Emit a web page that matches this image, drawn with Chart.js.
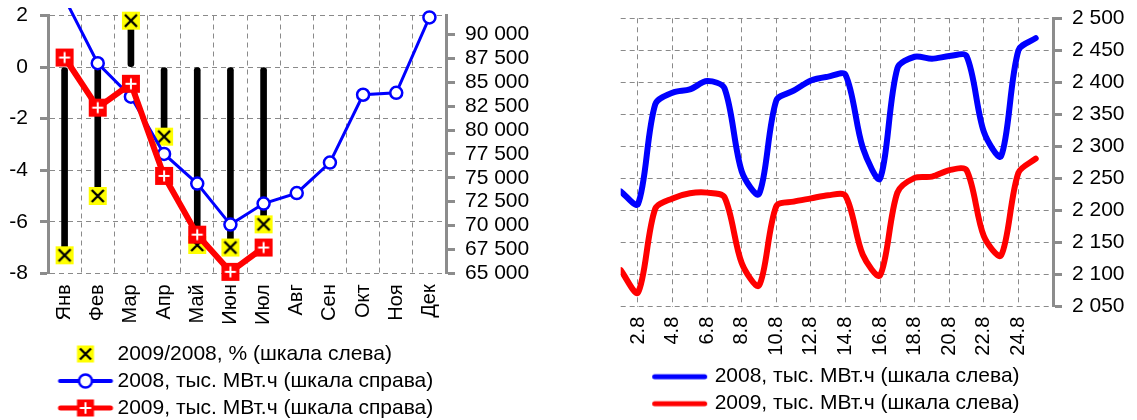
<!DOCTYPE html>
<html><head><meta charset="utf-8">
<script src="https://cdn.jsdelivr.net/npm/chart.js@4.4.0/dist/chart.umd.min.js"></script>
<style>
html,body{margin:0;padding:0;background:#fff;overflow:hidden;}
#wrap{position:relative;width:1137px;height:420px;}
#c1box{position:absolute;left:0;top:0;width:565px;height:420px;}
#c2box{position:absolute;left:565px;top:0;width:572px;height:420px;}
</style></head><body>
<div id="wrap"><div id="c1box"><canvas id="c1"></canvas></div><div id="c2box"><canvas id="c2"></canvas></div></div>
<script>
// ---- data: left chart (monthly) ----
const months = ['Янв','Фев','Мар','Апр','Май','Июн','Июл','Авг','Сен','Окт','Ноя','Дек'];
const ratioPct = [-7.3, -5.0, 1.8, -2.7, -6.9, -7.0, -6.1];
const monthly2008 = [93800, 87000, 83500, 77500, 74400, 70100, 72300, 73400, 76600, 83700, 83900, 91800];
const monthly2009 = [87600, 82350, 84850, 75200, 69050, 65150, 67700];
const pctTicks = [-8, -6, -4, -2, 0, 2];
const monthlyTicks = [65000, 67500, 70000, 72500, 75000, 77500, 80000, 82500, 85000, 87500, 90000];
const leftLegendTexts = ['2009/2008, % (шкала слева)', '2008, тыс. МВт.ч (шкала справа)', '2009, тыс. МВт.ч (шкала справа)'];

// ---- data: right chart (daily, August) ----
const days = [1,2,3,4,5,6,7,8,9,10,11,12,13,14,15,16,17,18,19,20,21,22,23,24,25];
const daily2008 = [2230, 2210, 2366, 2384, 2389, 2402, 2391, 2261, 2226, 2372, 2387, 2403, 2409, 2412, 2298, 2250, 2422, 2440, 2437, 2441, 2441, 2323, 2285, 2450, 2469];
const daily2009 = [2107, 2072, 2203, 2219, 2227, 2228, 2221, 2118, 2083, 2207, 2214, 2219, 2224, 2223, 2131, 2099, 2228, 2251, 2253, 2263, 2263, 2160, 2130, 2259, 2281];
const dayTicks = [2,4,6,8,10,12,14,16,18,20,22,24];
const dailyTicks = [2050,2100,2150,2200,2250,2300,2350,2400,2450,2500];
const rightLegendTexts = ['2008, тыс. МВт.ч (шкала слева)', '2009, тыс. МВт.ч (шкала слева)'];

const FONT = "'Liberation Sans', Arial, sans-serif";
const GRID = '#8a8a8a';
const AXIS = '#8c8c8c';
const DASH = [5, 4];
Chart.defaults.font.family = FONT;
Chart.defaults.font.size = 21;
Chart.defaults.color = '#000';

const fmt = v => String(v).replace(/\B(?=(\d{3})+(?!\d))/g, ' ');
const fixSize = (w, h) => s => {
  if (w !== null) s.width = w;
  if (h !== null) s.height = h;
  s.paddingTop = 0; s.paddingBottom = 0; s.paddingLeft = 0; s.paddingRight = 0;
};

function mk(w, h) { const c = document.createElement('canvas'); c.width = w; c.height = h; return c; }
function yellowX(ctx, cx, cy, s) {
  ctx.fillStyle = '#FFFF00'; ctx.fillRect(cx - s/2, cy - s/2, s, s);
  ctx.strokeStyle = '#000'; ctx.lineWidth = 2.4; const a = s/2 - 3;
  ctx.beginPath(); ctx.moveTo(cx-a, cy-a); ctx.lineTo(cx+a, cy+a); ctx.moveTo(cx+a, cy-a); ctx.lineTo(cx-a, cy+a); ctx.stroke();
}
function redPlus(ctx, cx, cy, s) {
  ctx.fillStyle = '#FF0000'; ctx.fillRect(cx - s/2, cy - s/2, s, s);
  ctx.strokeStyle = '#fff'; ctx.lineWidth = 2; const a = s/2 - 3.5;
  ctx.beginPath(); ctx.moveTo(cx-a, cy); ctx.lineTo(cx+a, cy); ctx.moveTo(cx, cy-a); ctx.lineTo(cx, cy+a); ctx.stroke();
}
function blueCircle(ctx, cx, cy, r) {
  ctx.fillStyle = '#fff'; ctx.strokeStyle = '#0000FF'; ctx.lineWidth = 2.5;
  ctx.beginPath(); ctx.arc(cx, cy, r, 0, Math.PI*2); ctx.fill(); ctx.stroke();
}
function hline(ctx, x0, x1, y, color, w) {
  ctx.strokeStyle = color; ctx.lineWidth = w; ctx.lineCap = 'round';
  ctx.beginPath(); ctx.moveTo(x0 + w/2, y); ctx.lineTo(x1 - w/2, y); ctx.stroke();
}
const ptYellow = mk(20, 20); yellowX(ptYellow.getContext('2d'), 10, 10, 18);
const ptRed = mk(20, 20); redPlus(ptRed.getContext('2d'), 10, 10, 18);

const IW = 70, IH = 22;
const lgYellow = mk(IW, IH); yellowX(lgYellow.getContext('2d'), 40, 11, 17);
const lgBlue = mk(IW, IH); { const c = lgBlue.getContext('2d'); hline(c, 12.5, 67.5, 11, '#0000FF', 4); blueCircle(c, 40, 11, 6.5); }
const lgRed = mk(IW, IH); { const c = lgRed.getContext('2d'); hline(c, 12.5, 67.5, 11, '#FF0000', 5); redPlus(c, 40, 11, 17); }
const lgBlueLine = mk(IW, IH); hline(lgBlueLine.getContext('2d'), 8, 63, 11, '#0000FF', 5);
const lgRedLine = mk(IW, IH); hline(lgRedLine.getContext('2d'), 8, 63, 11, '#FF0000', 5);

function legendItems(texts, icons) {
  return texts.map((t, i) => ({ text: t, pointStyle: icons[i], fillStyle: 'rgba(0,0,0,0)', strokeStyle: 'rgba(0,0,0,0)', lineWidth: 0, hidden: false, datasetIndex: i, fontColor: '#000' }));
}
const clipOpt = { left: 20, right: 20, top: 7.5, bottom: 20 };

new Chart(document.getElementById('c1'), {
  type: 'bar',
  data: {
    labels: months,
    datasets: [
      { type: 'line', label: leftLegendTexts[0], data: ratioPct, yAxisID: 'y', showLine: false,
        pointStyle: ptYellow, pointRadius: 9, order: 2, clip: clipOpt },
      { type: 'line', label: leftLegendTexts[1], data: monthly2008, yAxisID: 'y1',
        borderColor: '#0000FF', borderWidth: 3, tension: 0, pointStyle: 'circle', pointRadius: 6,
        pointBackgroundColor: '#fff', pointBorderColor: '#0000FF', pointBorderWidth: 2.5, order: 1, clip: clipOpt },
      { type: 'line', label: leftLegendTexts[2], data: monthly2009, yAxisID: 'y1',
        borderColor: '#FF0000', borderWidth: 6, borderJoinStyle: 'round', tension: 0, pointStyle: ptRed, pointRadius: 9, order: 0, clip: clipOpt },
      { type: 'bar', label: 'bars', data: ratioPct.map(v => [0, v]), yAxisID: 'y', backgroundColor: '#000',
        barThickness: 6, borderRadius: 3, borderSkipped: false, order: 3, clip: clipOpt }
    ]
  },
  options: {
    responsive: true, maintainAspectRatio: false, animation: false, devicePixelRatio: 1,
    layout: { padding: { left: 0, right: 0, top: 15.5, bottom: -8.5 } },
    plugins: {
      tooltip: { enabled: false },
      legend: { position: 'bottom', align: 'start', fullSize: false,
        labels: { usePointStyle: true, pointStyleWidth: 53, padding: 6, font: { size: 21 }, color: '#000',
          generateLabels: () => legendItems(leftLegendTexts, [lgYellow, lgBlue, lgRed]) } }
    },
    scales: {
      x: { type: 'category', offset: true,
        grid: { offset: true, color: GRID, lineWidth: 1, drawTicks: false },
        border: { display: false, dash: DASH },
        ticks: { minRotation: 90, maxRotation: 90, autoSkip: false, padding: 11, font: { size: 20 } },
        afterFit: fixSize(null, 64.2) },
      y: { position: 'left', min: -8, max: 2,
        afterBuildTicks: s => { s.ticks = pctTicks.map(v => ({ value: v })); },
        ticks: { padding: 12, autoSkip: false, callback: v => String(v) },
        grid: { color: GRID, lineWidth: 1, drawTicks: true, tickLength: 8, tickColor: AXIS, tickWidth: 3, tickBorderDash: [] },
        border: { display: true, color: AXIS, width: 3, dash: DASH },
        afterFit: fixSize(48, null) },
      y1: { position: 'right', min: 65000, max: 92000,
        afterBuildTicks: s => { s.ticks = monthlyTicks.map(v => ({ value: v })); },
        ticks: { padding: 10, autoSkip: false, callback: v => fmt(v) },
        grid: { drawOnChartArea: false, drawTicks: true, tickLength: 9, tickColor: AXIS, tickWidth: 3 },
        border: { display: true, color: AXIS, width: 3 },
        afterFit: fixSize(119, null) }
    }
  }
});

new Chart(document.getElementById('c2'), {
  type: 'line',
  data: {
    datasets: [
      { label: rightLegendTexts[0], data: days.map((d, i) => ({ x: d, y: daily2008[i] })), borderColor: '#0000FF',
        borderWidth: 6, pointRadius: 0, tension: 0.3, borderCapStyle: 'round', borderJoinStyle: 'round' },
      { label: rightLegendTexts[1], data: days.map((d, i) => ({ x: d, y: daily2009[i] })), borderColor: '#FF0000',
        borderWidth: 6, pointRadius: 0, tension: 0.3, borderCapStyle: 'round', borderJoinStyle: 'round' }
    ]
  },
  options: {
    responsive: true, maintainAspectRatio: false, animation: false, devicePixelRatio: 1,
    layout: { padding: { left: 55.7, right: 0, top: 18.3, bottom: -4.2 } },
    plugins: {
      tooltip: { enabled: false },
      legend: { position: 'bottom', align: 'center', fullSize: false,
        labels: { usePointStyle: true, pointStyleWidth: 50, padding: 6, font: { size: 21 }, color: '#000',
          generateLabels: () => legendItems(rightLegendTexts, [lgBlueLine, lgRedLine]) } }
    },
    scales: {
      x: { type: 'linear', min: 1, max: 26,
        afterBuildTicks: s => { s.ticks = dayTicks.map(v => ({ value: v })); },
        grid: { color: GRID, lineWidth: 1, drawTicks: false },
        border: { display: false, dash: DASH },
        ticks: { minRotation: 90, maxRotation: 90, autoSkip: false, padding: 10, font: { size: 20 }, callback: v => v + '.8' },
        afterFit: fixSize(null, 53.5) },
      y: { position: 'right', min: 2050, max: 2500,
        afterBuildTicks: s => { s.ticks = dailyTicks.map(v => ({ value: v })); },
        ticks: { padding: 10, autoSkip: false, callback: v => fmt(v) },
        grid: { color: GRID, lineWidth: 1, drawTicks: true, tickLength: 9, tickColor: AXIS, tickWidth: 3, tickBorderDash: [] },
        border: { display: true, color: AXIS, width: 3, dash: DASH },
        afterFit: fixSize(84, null) }
    }
  }
});
</script>
</body></html>
